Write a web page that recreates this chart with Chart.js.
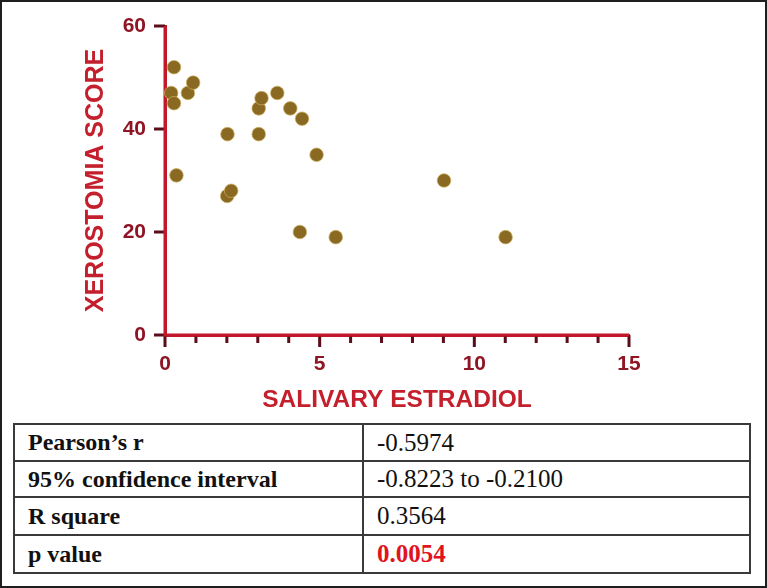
<!DOCTYPE html>
<html>
<head>
<meta charset="utf-8">
<script src="https://cdn.jsdelivr.net/npm/chart.js@4/dist/chart.umd.min.js"></script>
<style>
  html, body { margin: 0; padding: 0; background: #fff; }
  #wrap { position: relative; width: 767px; height: 588px; overflow: hidden; background: #fff; }
  #chart { position: absolute; left: 0; top: 0; }
  #frame { position: absolute; left: 0; top: 0; width: 767px; height: 588px; box-sizing: border-box; border: 2px solid #1e1e1e; pointer-events: none; }
  #stats { position: absolute; left: 13px; top: 423px; width: 738px; height: 149px; border-collapse: collapse; table-layout: fixed; }
  #stats td { border: 2px solid #3a3a3a; padding: 0 0 0 13px; font-family: "Liberation Serif", "Times New Roman", serif; color: #111; white-space: nowrap; overflow: hidden; }
  #stats td.lab { font-weight: bold; font-size: 24px; width: 334px; }
  #stats td.val { font-size: 25px; }
  #stats td span { display: inline-block; }
  #stats td.red { color: #e0141e; font-weight: bold; }
</style>
</head>
<body>
<div id="wrap">
  <canvas id="chart" width="767" height="420"></canvas>
  <table id="stats"></table>
  <div id="frame"></div>
</div>
<script>
// ---- data ----
const estradiol = [0.29, 0.2, 0.29, 0.74, 0.91, 0.37, 2.02, 2.01, 2.14, 3.03, 3.03, 3.12, 3.63, 4.05, 4.43, 4.9, 4.36, 5.52, 9.02, 11.01];
const xeroScore = [52, 47, 45, 47, 49, 31, 39, 27, 28, 39, 44, 46, 47, 44, 42, 35, 20, 19, 30, 19];
const xTickValues = [0, 5, 10, 15];
const yTickValues = [0, 20, 40, 60];
const statLabels = ["Pearson\u2019s r", "95% confidence interval", "R square", "p value"];
const statValues = ["-0.5974", "-0.8223 to -0.2100", "0.3564", "0.0054"];
const rowHeights = [37, 36, 38, 38];

// ---- table ----
const table = document.getElementById('stats');
statLabels.forEach((lab, i) => {
  const tr = document.createElement('tr');
  tr.style.height = rowHeights[i] + 'px';
  const a = document.createElement('td'); a.className = 'lab';
  const sa = document.createElement('span'); sa.textContent = lab; a.appendChild(sa);
  const b = document.createElement('td'); b.className = 'val' + (i === statLabels.length - 1 ? ' red' : '');
  const sb = document.createElement('span'); sb.textContent = statValues[i]; b.appendChild(sb);
  tr.appendChild(a); tr.appendChild(b);
  table.appendChild(tr);
});

// ---- chart ----
const axisRed = '#c2182b';
const labelRed = '#8f1524';
const tickDark = '#5a0e1a';

const tickPlugin = {
  id: 'customTicks',
  beforeDatasetsDraw(chart) {
    const ctx = chart.ctx;
    const xs = chart.scales.x, ys = chart.scales.y;
    const y0 = ys.getPixelForValue(0);
    const x0 = xs.getPixelForValue(0);
    ctx.save();
    ctx.strokeStyle = tickDark;
    ctx.lineWidth = 3;
    ctx.beginPath();
    xs.ticks.forEach(t => {
      const px = xs.getPixelForValue(t.value);
      const len = xTickValues.includes(t.value) ? 12 : 8;
      ctx.moveTo(px, y0);
      ctx.lineTo(px, y0 + len);
    });
    ys.ticks.forEach(t => {
      if (!yTickValues.includes(t.value)) return;
      const py = ys.getPixelForValue(t.value);
      ctx.moveTo(x0 - 11, py);
      ctx.lineTo(x0, py);
    });
    ctx.stroke();
    ctx.strokeStyle = axisRed;
    ctx.beginPath();
    ctx.moveTo(x0, ys.getPixelForValue(60));
    ctx.lineTo(x0, y0);
    ctx.lineTo(xs.getPixelForValue(15), y0);
    ctx.stroke();
    ctx.restore();
  }
};

new Chart(document.getElementById('chart'), {
  type: 'scatter',
  data: {
    datasets: [{
      data: estradiol.map((x, i) => ({ x: x, y: xeroScore[i] })),
      backgroundColor: '#8a6a22',
      borderColor: 'rgba(205,175,95,0.7)',
      borderWidth: 1,
      pointRadius: 6.8,
      pointHoverRadius: 6.8,
      clip: false
    }]
  },
  options: {
    responsive: false,
    animation: false,
    events: [],
    layout: { padding: { left: 0, top: 26, right: 138, bottom: 0 } },
    plugins: { legend: { display: false }, tooltip: { enabled: false } },
    scales: {
      x: {
        type: 'linear', min: 0, max: 15,
        afterFit(scale) { scale.height = 85; },
        ticks: {
          stepSize: 1,
          autoSkip: false,
          maxRotation: 0,
          padding: 6,
          color: labelRed,
          font: { family: 'Liberation Sans, Arial, sans-serif', size: 21, weight: 'bold' },
          callback: v => (xTickValues.includes(v) ? String(v) : '')
        },
        grid: { display: true, drawOnChartArea: false, drawTicks: true, tickLength: 11, color: 'rgba(0,0,0,0)' },
        border: { display: true, color: axisRed, width: 3 },
        title: {
          display: true, text: 'SALIVARY ESTRADIOL', color: '#c41f2c',
          font: { family: 'Liberation Sans, Arial, sans-serif', size: 24.5, weight: 'bold', lineHeight: 1.2 },
          padding: { top: 0, bottom: 5 }
        }
      },
      y: {
        type: 'linear', min: 0, max: 60,
        afterFit(scale) { scale.width = 165; },
        ticks: {
          stepSize: 20,
          padding: 8,
          color: labelRed,
          font: { family: 'Liberation Sans, Arial, sans-serif', size: 21, weight: 'bold' }
        },
        grid: { display: true, drawOnChartArea: false, drawTicks: true, tickLength: 11, color: 'rgba(0,0,0,0)' },
        border: { display: true, color: axisRed, width: 3 },
        title: {
          display: true, text: 'XEROSTOMIA SCORE', color: '#c41f2c',
          font: { family: 'Liberation Sans, Arial, sans-serif', size: 25, weight: 'bold', lineHeight: 1.2 },
          padding: { top: 81, bottom: 0 }
        }
      }
    }
  },
  plugins: [tickPlugin]
});
</script>
</body>
</html>
